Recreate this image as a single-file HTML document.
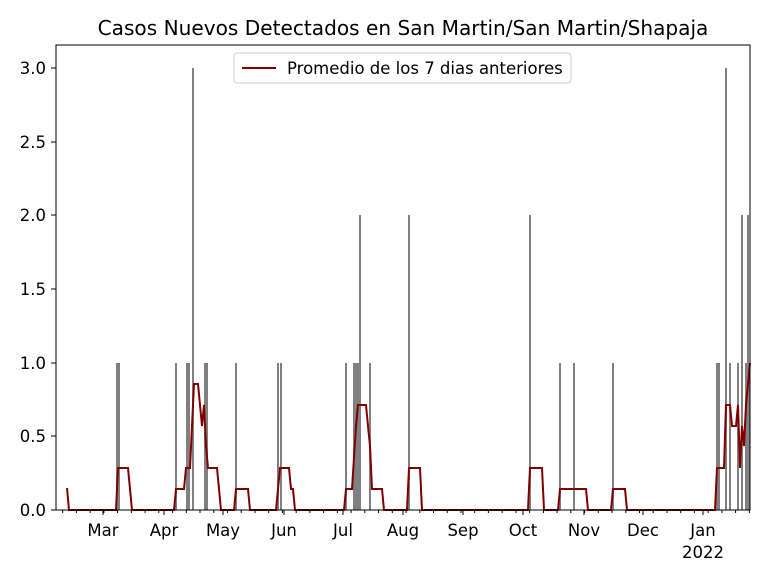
<!DOCTYPE html>
<html><head><style>body{margin:0;background:#fff}svg{display:block}text{font-family:"DejaVu Sans","Liberation Sans",sans-serif;fill:#000}</style></head>
<body>
<svg width="768" height="576" viewBox="0 0 768 576">
<rect width="768" height="576" fill="#fff"/>
<text x="403" y="35" font-size="20.1" text-anchor="middle">Casos Nuevos Detectados en San Martin/San Martin/Shapaja</text>
<g fill="#808080">
<rect x="116" y="363" width="4" height="147"/>
<rect x="175" y="363" width="2" height="147"/>
<rect x="186" y="363" width="4" height="147"/>
<rect x="192" y="68" width="2" height="442"/>
<rect x="204" y="363" width="4" height="147"/>
<rect x="235" y="363" width="2" height="147"/>
<rect x="277" y="363" width="2" height="147"/>
<rect x="280" y="363" width="2" height="147"/>
<rect x="345" y="363" width="2" height="147"/>
<rect x="353" y="363" width="6" height="147"/>
<rect x="359" y="215" width="2" height="295"/>
<rect x="369" y="363" width="2" height="147"/>
<rect x="408" y="215" width="2" height="295"/>
<rect x="529" y="215" width="2" height="295"/>
<rect x="559" y="363" width="2" height="147"/>
<rect x="573" y="363" width="2" height="147"/>
<rect x="612" y="363" width="2" height="147"/>
<rect x="716" y="363" width="4" height="147"/>
<rect x="725" y="68" width="2" height="442"/>
<rect x="729" y="363" width="2" height="147"/>
<rect x="737" y="363" width="2" height="147"/>
<rect x="741" y="215" width="2" height="295"/>
<rect x="745" y="363" width="2" height="147"/>
<rect x="747" y="215" width="2" height="295"/>
<rect x="749" y="363" width="1" height="147"/>
</g>
<polyline fill="none" stroke="#800000" stroke-width="2" points="67,488 69,510 116,510 118,468 128,468 132,510 174,510 176,489 184,489 186,468 190,468 194,384 198,384 202,426 204,405 206,446 208,468 217,468 221,510 234,510 236,489 248,489 250,510 276,510 278,489 280,468 289,468 291,489 293,489 295,510 344,510 346,489 352,489 356,426 358,405 366,405 368,426 370,446 372,489 382,489 384,510 407,510 409,468 420,468 422,510 528,510 530,468 542,468 544,510 558,510 560,489 586,489 588,510 611,510 613,489 625,489 627,510 715,510 717,468 724,468 726,405 730,405 732,426 736,426 738,405 740,468 742,426 744,446 746,405 748,384 750,363"/>
<rect x="56" y="45" width="694" height="465" fill="none" stroke="#000" stroke-width="1"/>
<g stroke="#000" stroke-width="1">
<line x1="51" y1="510" x2="56" y2="510"/><line x1="51" y1="436" x2="56" y2="436"/><line x1="51" y1="363" x2="56" y2="363"/><line x1="51" y1="289" x2="56" y2="289"/><line x1="51" y1="215" x2="56" y2="215"/><line x1="51" y1="142" x2="56" y2="142"/><line x1="51" y1="68" x2="56" y2="68"/>
<line x1="103" y1="510" x2="103" y2="515"/><line x1="164" y1="510" x2="164" y2="515"/><line x1="223" y1="510" x2="223" y2="515"/><line x1="284" y1="510" x2="284" y2="515"/><line x1="343" y1="510" x2="343" y2="515"/><line x1="403" y1="510" x2="403" y2="515"/><line x1="463" y1="510" x2="463" y2="515"/><line x1="523" y1="510" x2="523" y2="515"/><line x1="584" y1="510" x2="584" y2="515"/><line x1="643" y1="510" x2="643" y2="515"/><line x1="703" y1="510" x2="703" y2="515"/>
</g>
<path stroke="#000" stroke-width="1" fill="none" d="M62.7 510v3M76.4 510v3M90.2 510v3M103.9 510v3M117.6 510v3M131.4 510v3M145.1 510v3M158.8 510v3M172.6 510v3M186.3 510v3M200 510v3M213.8 510v3M227.5 510v3M241.2 510v3M255 510v3M268.7 510v3M282.4 510v3M296.2 510v3M309.9 510v3M323.6 510v3M337.4 510v3M351.1 510v3M364.8 510v3M378.6 510v3M392.3 510v3M406 510v3M419.8 510v3M433.5 510v3M447.2 510v3M461 510v3M474.7 510v3M488.4 510v3M502.2 510v3M515.9 510v3M529.6 510v3M543.4 510v3M557.1 510v3M570.8 510v3M584.6 510v3M598.3 510v3M612 510v3M625.8 510v3M639.5 510v3M653.2 510v3M667 510v3M680.7 510v3M694.4 510v3M708.2 510v3M721.9 510v3M735.6 510v3M749.4 510v3"/>
<g font-size="16.5" text-anchor="end">
<text x="46" y="516">0.0</text><text x="46" y="442">0.5</text><text x="46" y="369">1.0</text><text x="46" y="295">1.5</text><text x="46" y="221">2.0</text><text x="46" y="148">2.5</text><text x="46" y="74">3.0</text>
</g>
<g font-size="16.5" text-anchor="middle">
<text x="103" y="536">Mar</text><text x="164" y="536">Apr</text><text x="223" y="536">May</text><text x="284" y="536">Jun</text><text x="343" y="536">Jul</text><text x="403" y="536">Aug</text><text x="463" y="536">Sep</text><text x="523" y="536">Oct</text><text x="584" y="536">Nov</text><text x="643" y="536">Dec</text><text x="703" y="536">Jan</text><text x="703" y="558">2022</text>
</g>
<rect x="234" y="53" width="337" height="30" rx="3" fill="#fff" stroke="#ccc"/>
<line x1="242" y1="68" x2="276" y2="68" stroke="#800000" stroke-width="2"/>
<text x="287" y="74" font-size="16.5">Promedio de los 7 dias anteriores</text>
</svg>
</body></html>
